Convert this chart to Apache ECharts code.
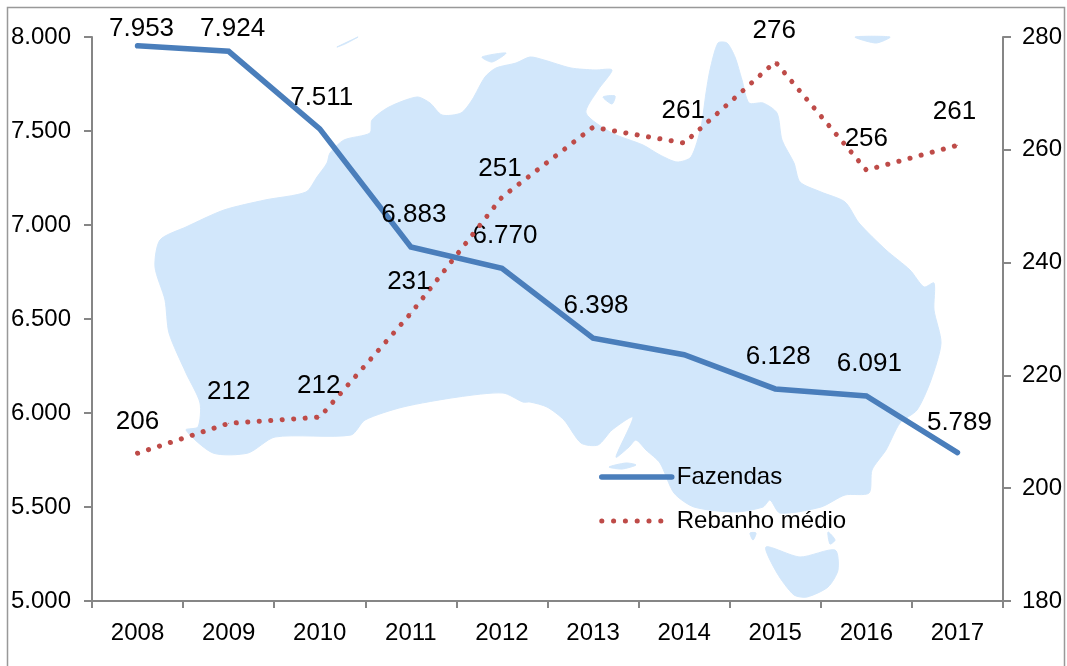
<!DOCTYPE html>
<html><head><meta charset="utf-8">
<style>html,body{margin:0;padding:0;background:#fff;overflow:hidden}#c{width:1067px;height:666px}</style>
<script src="https://cdn.jsdelivr.net/npm/echarts@6/dist/echarts.min.js"></script></head>
<body><div id="c"></div>
<script>
const years=['2008','2009','2010','2011','2012','2013','2014','2015','2016','2017'];
const fazendas=[7953,7924,7511,6883,6770,6398,6310,6128,6091,5789];
const rebanho=[206.2,211.5,212.6,231,251.6,264,261.2,275.6,256.4,260.8];
const rebanhoText=['206','212','212','231','251','','261','276','256','261'];
const fazendasShown=[true,true,true,true,true,true,false,true,true,true];
const fazOffset=[[4,1],[4,-4],[2,-13],[3,-14],[3,-14],[3,-14],[0,0],[3,-14],[3,-14],[2,-11]];
const rebOffset=[[0,-13],[0,-13],[-1,-13],[-2,-13],[-2,-10],[0,0],[-1,-14],[-1,-12],[0,-13],[-3,-15]];
const mainland=[[160,240],[186,227],[224,210],[265,200],[306,192],[317,177],[327,163],[330,153],[344,140],[370,133],[372,120],[389,107],[417,97],[430,103],[442,115],[461,113],[472,100],[485,77],[496,68],[516,63],[530,57],[544,60],[571,68],[595,70],[612,70],[598,90],[586,113],[612,133],[643,145],[660,155],[677,162],[691,157],[701,127],[706,93],[710,70],[718,43],[727,43],[735,57],[742,80],[749,103],[763,103],[777,113],[782,140],[794,163],[800,182],[821,192],[845,202],[859,223],[886,250],[910,270],[924,287],[934,283],[934,310],[941,343],[931,380],[917,410],[900,423],[886,450],[872,470],[869,493],[845,495],[821,507],[780,513],[770,500],[763,507],[735,512],[694,507],[674,493],[660,463],[646,450],[636,440],[629,447],[616,457],[633,417],[612,430],[598,445],[581,443],[564,420],[547,407],[530,402],[523,402],[503,393],[458,397],[403,407],[365,420],[351,435],[275,437],[248,453],[213,453],[186,430],[198,427],[200,403],[186,373],[169,333],[165,300],[155,267]];
const islands=[
 [[766,547],[800,557],[835,550],[838,570],[828,587],[807,597],[794,595],[777,573]],
 [[609,467],[626,463],[636,465],[622,469]],
 [[482,57],[506,53],[492,62]],
 [[603,97],[615,96],[612,104]],
 [[750,533],[756,533],[753,540]],
 [[828,532],[835,540],[830,544]],
 [[855,37],[890,37],[876,43]],
 [[337,47],[358,37],[345,44]]
];
const mapColor='#d2e7fb', axisColor='#868686';
const dotDash=[0.1,11.4];
const legendDots=[0.1,11.7,0.1,11.7,0.1,11.7,0.1,11.7,0.1,11.7,0.1,60];
const chart=echarts.init(document.getElementById('c'),null,{renderer:'canvas'});
const fmtK=v=>String(v).replace(/(\d)(\d{3})$/,'$1.$2');
const poly=p=>({type:'polygon',z:-1,silent:true,shape:{points:p,smooth:0.25},style:{fill:mapColor,stroke:mapColor,lineWidth:1}});
const tickLabel={fontFamily:'Liberation Sans',fontSize:24,color:'#000',padding:[2,0,0,0]};
const axisBase=(min,max,interval)=>({type:'value',min,max,interval,splitLine:{show:false},
 axisLine:{show:true,lineStyle:{color:axisColor,width:2}},
 axisTick:{show:true,length:8,lineStyle:{color:axisColor,width:2}}});
const labelBase={position:'top',fontFamily:'Liberation Sans',fontSize:26,color:'#000'};
chart.setOption({
 animation:false,backgroundColor:'#fff',
 textStyle:{fontFamily:'Liberation Sans'},
 graphic:[{type:'rect',z:-2,silent:true,shape:{x:7.5,y:7.5,width:1057,height:700},style:{fill:'#fff',stroke:'#999',lineWidth:1.5}},
  poly(mainland),...islands.map(poly)],
 grid:{left:92,right:64,top:37,bottom:65},
 legend:{orient:'vertical',left:594,top:460,itemWidth:70,itemHeight:10,itemGap:20,selectedMode:false,
  lineStyle:{width:5.5},itemStyle:{opacity:0},
  textStyle:{fontFamily:'Liberation Sans',fontSize:24,color:'#000'},
  data:[{name:'Fazendas'},{name:'Rebanho médio',lineStyle:{width:5,type:legendDots}}]},
 xAxis:{type:'category',data:years,boundaryGap:true,
  axisLine:{show:true,onZero:false,lineStyle:{color:axisColor,width:2}},
  axisTick:{show:true,length:7,alignWithLabel:false,lineStyle:{color:axisColor,width:2}},
  axisLabel:{fontFamily:'Liberation Sans',fontSize:24,color:'#000',margin:20,interval:0}},
 yAxis:[Object.assign(axisBase(5000,8000,500),{position:'left',axisLabel:Object.assign({margin:21,formatter:fmtK},tickLabel)}),
        Object.assign(axisBase(180,280,20),{position:'right',axisLabel:Object.assign({margin:19},tickLabel)})],
 series:[
  {name:'Fazendas',type:'line',yAxisIndex:0,symbol:'circle',symbolSize:1,showAllSymbol:true,z:3,
   lineStyle:{color:'#4a7ebb',width:5.5,cap:'round',join:'miter'},itemStyle:{color:'#4a7ebb'},
   data:fazendas.map((v,i)=>({value:v,label:Object.assign({show:fazendasShown[i],offset:fazOffset[i],formatter:fmtK(v)},labelBase)}))},
  {name:'Rebanho médio',type:'line',yAxisIndex:1,symbol:'circle',symbolSize:1,showAllSymbol:true,z:4,
   lineStyle:{color:'#be4b48',width:5,cap:'round',type:dotDash},itemStyle:{color:'#be4b48'},
   data:rebanho.map((v,i)=>({value:v,label:Object.assign({show:rebanhoText[i]!=='',offset:rebOffset[i],formatter:rebanhoText[i]},labelBase)}))}
 ]
});
</script></body></html>
